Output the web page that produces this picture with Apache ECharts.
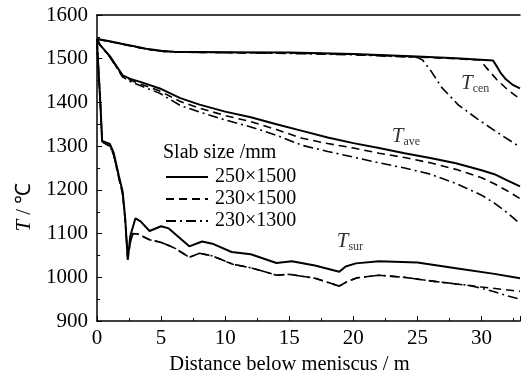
<!DOCTYPE html>
<html>
<head>
<meta charset="utf-8">
<script src="https://cdn.jsdelivr.net/npm/echarts@6/dist/echarts.min.js"></script>
<style>
  html, body { margin: 0; padding: 0; background: #fff; }
  #chart { width: 523px; height: 380px; }
</style>
</head>
<body>
<div id="chart"></div>
<script>
// [distance (m), temperature (°C)]
const tCen250x1500 = [[0,1545],[1,1540],[2,1534],[3,1528],[4,1522],[5,1518],[6,1516],[10,1515],[15,1514],[20,1511],[25,1505],[28,1501],[30.9,1496],[31.2,1482],[31.5,1467],[31.9,1453],[32.4,1441],[33,1432]];
const tCen230x1500 = [[0,1545],[1,1539],[2,1533],[3,1527],[4,1521],[5,1517],[6,1515],[10,1514],[15,1513],[20,1510],[25,1504],[28,1500],[29.9,1497],[30.3,1482],[31.2,1452],[32,1430],[33,1408]];
const tCen230x1300 = [[0,1545],[1,1539],[2,1533],[3,1527],[4,1521],[5,1517],[6,1515],[10,1514],[15,1512],[20,1509],[25,1503],[25.4,1497],[26.1,1470],[26.9,1434],[28.2,1394],[29.7,1362],[31.2,1332],[33,1298]];

const tAve250x1500 = [[0,1545],[0.2,1533],[1,1506],[2,1462],[2.6,1454],[3.5,1446],[4.9,1432],[6.5,1410],[8,1395],[10,1379],[12,1366],[14,1350],[16,1335],[18,1320],[20,1307],[22,1296],[24,1284],[26,1273],[28,1261],[30,1245],[31,1236],[32,1222],[33,1208]];
const tAve230x1500 = [[0,1545],[0.2,1533],[1,1505],[2,1460],[2.6,1451],[3.5,1441],[4.9,1426],[6.5,1402],[8,1387],[10,1370],[12,1356],[14,1338],[16,1318],[18,1306],[20,1296],[22,1284],[24,1274],[26,1262],[28,1247],[30,1228],[31,1214],[32,1198],[33,1180]];
const tAve230x1300 = [[0,1545],[0.2,1533],[1,1504],[2,1458],[2.6,1448],[3.5,1437],[4.9,1421],[6.5,1393],[8,1378],[10,1360],[12,1344],[14,1325],[16,1302],[18,1288],[20,1275],[22,1262],[24,1250],[26,1236],[28,1215],[30,1188],[31,1170],[32,1148],[33,1123]];

const tSur250x1500 = [[0,1545],[0.05,1510],[0.26,1400],[0.4,1312],[1,1305],[1.3,1285],[1.7,1233],[2,1196],[2.2,1135],[2.4,1040],[2.6,1095],[3,1135],[3.4,1128],[4.1,1106],[5,1117],[5.6,1112],[7.2,1071],[8.2,1082],[9,1077],[10.5,1058],[12,1053],[14,1033],[15.2,1037],[17,1027],[18.9,1013],[19.4,1025],[20.2,1032],[22,1037],[25,1034],[28,1021],[31,1008],[33,998]];
const tSur230x1500 = [[0,1545],[0.05,1510],[0.26,1400],[0.4,1310],[1,1300],[1.3,1280],[1.7,1228],[2,1190],[2.2,1130],[2.4,1045],[2.6,1080],[2.8,1100],[3.2,1099],[4.1,1086],[5,1080],[6,1068],[7.2,1046],[8,1055],[9,1049],[10.6,1030],[12,1022],[14,1005],[15,1007],[17,998],[18.9,980],[19.5,990],[20.3,999],[22,1005],[24,1000],[26,992],[28,985],[30,978],[33,968]];
const tSur230x1300 = [[0,1545],[0.05,1510],[0.26,1400],[0.4,1310],[1,1300],[1.3,1280],[1.7,1228],[2,1190],[2.2,1130],[2.4,1045],[2.6,1080],[2.8,1100],[3.2,1099],[4.1,1086],[5,1080],[6,1068],[7.2,1046],[8,1055],[9,1049],[10.6,1030],[12,1022],[14,1005],[15,1007],[17,998],[18.9,980],[19.5,990],[20.3,999],[22,1005],[24,1000],[26,992],[28,985],[29,982],[30,975],[31,967],[32,958],[33,950]];

const slabSizes = ['250×1500', '230×1500', '230×1300'];
// [x, y, subscript] for the T_cen / T_ave / T_sur tags
const curveTags = [[28.4, 1442, 'cen'], [23.0, 1321, 'ave'], [18.7, 1082, 'sur']];

const font = '"Liberation Serif", "Times New Roman", serif';
const lineTypes = ['solid', [8, 5], [10, 4, 2, 4]];
const lineWidths = [2, 1.6, 1.6];

const groups = [
  [tCen250x1500, tCen230x1500, tCen230x1300],
  [tAve250x1500, tAve230x1500, tAve230x1300],
  [tSur250x1500, tSur230x1500, tSur230x1300]
];

const series = [];
groups.forEach((group) => {
  group.forEach((data, i) => {
    series.push({
      name: slabSizes[i],
      type: 'line',
      data: data,
      symbol: 'none',
      silent: true,
      lineStyle: { color: '#000', width: lineWidths[i], type: lineTypes[i] },
      itemStyle: { color: '#000' }
    });
  });
});

series.push({
  type: 'scatter',
  symbolSize: 0,
  silent: true,
  data: curveTags,
  label: {
    show: true,
    position: 'inside',
    align: 'left',
    verticalAlign: 'middle',
    formatter: (p) => '{t|T}{s|' + p.value[2] + '}',
    rich: {
      t: { fontFamily: font, fontStyle: 'italic', fontSize: 21, color: '#000', lineHeight: 22, verticalAlign: 'top' },
      s: { fontFamily: font, fontSize: 12, color: '#000', lineHeight: 12, padding: [14, 0, 0, 0], verticalAlign: 'bottom' }
    }
  }
});

const chart = echarts.init(document.getElementById('chart'));
chart.setOption({
  animation: false,
  backgroundColor: '#fff',
  title: {
    text: 'Slab size /mm',
    left: 163,
    top: 143,
    padding: 0,
    textStyle: { fontFamily: font, fontSize: 20, fontWeight: 'normal', color: '#000' }
  },
  legend: {
    data: slabSizes,
    orient: 'vertical',
    left: 165,
    top: 166,
    padding: 0,
    itemWidth: 42,
    itemHeight: 14,
    itemGap: 0,
    itemStyle: { opacity: 0 },
    textStyle: { fontFamily: font, fontSize: 20, color: '#000', lineHeight: 22, padding: [0, 0, 0, 2] }
  },
  grid: { left: 97, right: 0, top: 15, bottom: 57 },
  xAxis: [
    {
      type: 'value',
      min: 0,
      max: 33,
      interval: 5,
      name: 'Distance below meniscus / m',
      nameLocation: 'middle',
      nameGap: 29,
      nameTextStyle: { fontFamily: font, fontSize: 20.5, color: '#000', padding: [0, 38, 0, 0] },
      axisLine: { lineStyle: { color: '#000', width: 1.5 } },
      axisTick: { inside: true, length: 5, lineStyle: { color: '#000' } },
      minorTick: { show: true, splitNumber: 2, length: 3, lineStyle: { color: '#000' } },
      axisLabel: {
        fontFamily: font,
        fontSize: 21,
        color: '#000',
        margin: 7,
        formatter: (v) => (v % 5 === 0 ? String(v) : '')
      },
      splitLine: { show: false }
    },
    {
      type: 'value',
      position: 'top',
      min: 0,
      max: 33,
      axisLine: { lineStyle: { color: '#000', width: 1.5 } },
      axisTick: { show: false },
      axisLabel: { show: false },
      splitLine: { show: false }
    }
  ],
  yAxis: {
    type: 'value',
    min: 900,
    max: 1600,
    interval: 100,
    name: '{i|T} / ℃',
    nameLocation: 'middle',
    nameGap: 56,
    nameRotate: 90,
    nameTextStyle: {
      fontFamily: font,
      fontSize: 21,
      color: '#000',
      padding: [0, 78, 0, 0],
      rich: { i: { fontFamily: font, fontStyle: 'italic', fontSize: 21, color: '#000' } }
    },
    axisLine: { show: true, lineStyle: { color: '#000', width: 1.5 } },
    axisTick: { inside: true, length: 5, lineStyle: { color: '#000' } },
    minorTick: { show: true, splitNumber: 2, length: 3, lineStyle: { color: '#000' } },
    axisLabel: { fontFamily: font, fontSize: 21, color: '#000', margin: 9, formatter: (v) => String(v) },
    splitLine: { show: false }
  },
  series: series
});
</script>
</body>
</html>
